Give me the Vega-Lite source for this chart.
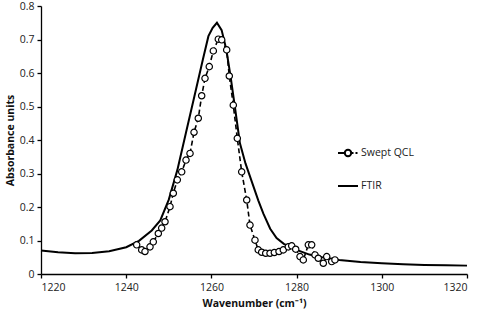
{
  "$schema": "https://vega.github.io/schema/vega-lite/v6.json",
  "width": 426,
  "height": 268,
  "autosize": {"type": "none"},
  "padding": {"left": 41, "top": 6, "right": 17, "bottom": 44},
  "background": "white",
  "config": {
    "view": {"stroke": null},
    "font": "Open Sans",
    "axis": {
      "grid": false,
      "domainColor": "black",
      "domainWidth": 1.3,
      "tickColor": "black",
      "tickWidth": 1.3,
      "tickSize": 4,
      "labelColor": "#222",
      "labelFont": "Open Sans",
      "labelFontSize": 10.5,
      "titleFont": "Open Sans",
      "titleFontSize": 10.5,
      "titleFontWeight": "bold",
      "titleColor": "#111"
    }
  },
  "datasets": {
    "ftir": [
      {"w": 1220, "a": 0.070},
      {"w": 1224, "a": 0.065},
      {"w": 1228, "a": 0.062},
      {"w": 1232, "a": 0.063},
      {"w": 1236, "a": 0.068},
      {"w": 1240, "a": 0.080},
      {"w": 1243, "a": 0.099},
      {"w": 1246, "a": 0.130},
      {"w": 1248, "a": 0.160},
      {"w": 1250, "a": 0.222},
      {"w": 1252, "a": 0.310},
      {"w": 1254, "a": 0.420},
      {"w": 1256, "a": 0.530},
      {"w": 1258, "a": 0.640},
      {"w": 1259.3, "a": 0.710},
      {"w": 1260.3, "a": 0.735},
      {"w": 1261.3, "a": 0.750},
      {"w": 1262.4, "a": 0.728},
      {"w": 1263.5, "a": 0.670},
      {"w": 1264.5, "a": 0.590},
      {"w": 1265.5, "a": 0.500},
      {"w": 1266.7, "a": 0.390},
      {"w": 1268, "a": 0.330},
      {"w": 1269.5, "a": 0.275},
      {"w": 1271, "a": 0.220},
      {"w": 1272.2, "a": 0.180},
      {"w": 1273.8, "a": 0.135},
      {"w": 1275.3, "a": 0.107},
      {"w": 1277, "a": 0.090},
      {"w": 1280, "a": 0.072},
      {"w": 1283, "a": 0.058},
      {"w": 1286, "a": 0.050},
      {"w": 1290, "a": 0.042},
      {"w": 1295, "a": 0.036},
      {"w": 1300, "a": 0.032},
      {"w": 1305, "a": 0.029},
      {"w": 1310, "a": 0.027},
      {"w": 1315, "a": 0.026},
      {"w": 1320, "a": 0.025}
    ],
    "qcl": [
      {"w": 1242.46, "a": 0.087},
      {"w": 1243.64, "a": 0.072},
      {"w": 1244.41, "a": 0.067},
      {"w": 1245.59, "a": 0.081},
      {"w": 1246.36, "a": 0.096},
      {"w": 1247.54, "a": 0.121},
      {"w": 1248.33, "a": 0.137},
      {"w": 1249.11, "a": 0.156},
      {"w": 1250.28, "a": 0.201},
      {"w": 1251.06, "a": 0.241},
      {"w": 1252.0, "a": 0.281},
      {"w": 1253.03, "a": 0.305},
      {"w": 1254.04, "a": 0.340},
      {"w": 1254.98, "a": 0.360},
      {"w": 1255.92, "a": 0.423},
      {"w": 1256.92, "a": 0.465},
      {"w": 1257.72, "a": 0.532},
      {"w": 1258.5, "a": 0.584},
      {"w": 1259.5, "a": 0.619},
      {"w": 1260.45, "a": 0.666},
      {"w": 1261.62, "a": 0.701},
      {"w": 1262.42, "a": 0.699},
      {"w": 1263.59, "a": 0.669},
      {"w": 1264.2, "a": 0.591},
      {"w": 1265.14, "a": 0.504},
      {"w": 1266.08, "a": 0.405},
      {"w": 1267.11, "a": 0.305},
      {"w": 1268.29, "a": 0.221},
      {"w": 1269.06, "a": 0.146},
      {"w": 1270.23, "a": 0.101},
      {"w": 1271.0, "a": 0.072},
      {"w": 1271.8, "a": 0.065},
      {"w": 1272.75, "a": 0.062},
      {"w": 1273.76, "a": 0.062},
      {"w": 1274.77, "a": 0.064},
      {"w": 1275.87, "a": 0.067},
      {"w": 1276.88, "a": 0.072},
      {"w": 1278.05, "a": 0.081},
      {"w": 1278.85, "a": 0.084},
      {"w": 1279.79, "a": 0.074},
      {"w": 1280.8, "a": 0.052},
      {"w": 1281.57, "a": 0.042},
      {"w": 1282.75, "a": 0.087},
      {"w": 1283.54, "a": 0.087},
      {"w": 1284.32, "a": 0.057},
      {"w": 1285.09, "a": 0.047},
      {"w": 1286.27, "a": 0.032},
      {"w": 1287.07, "a": 0.052},
      {"w": 1288.24, "a": 0.037},
      {"w": 1289.0, "a": 0.042}
    ],
    "legend": [
      {"series": "Swept QCL"},
      {"series": "FTIR"}
    ]
  },
  "encoding": {
    "x": {
      "field": "w",
      "type": "quantitative",
      "scale": {"domain": [1220, 1320], "nice": false, "zero": false},
      "axis": {"values": [1220, 1240, 1260, 1280, 1300, 1320], "format": "d", "title": "Wavenumber (cm⁻¹)", "titlePadding": 6, "labelPadding": 4}
    },
    "y": {
      "field": "a",
      "type": "quantitative",
      "scale": {"domain": [0, 0.8], "nice": false},
      "axis": {"values": [0, 0.1, 0.2, 0.3, 0.4, 0.5, 0.6, 0.7, 0.8], "format": ".1~f", "title": "Absorbance units", "titlePadding": 4, "labelPadding": 3}
    }
  },
  "layer": [
    {
      "data": {"name": "ftir"},
      "mark": {"type": "line", "color": "black", "strokeWidth": 2}
    },
    {
      "data": {"name": "qcl"},
      "mark": {"type": "line", "color": "black", "strokeWidth": 1.6, "strokeDash": [5, 3]}
    },
    {
      "data": {"name": "qcl"},
      "mark": {"type": "point", "shape": "circle", "filled": true, "fill": "white", "stroke": "black", "strokeWidth": 1.2, "size": 40, "opacity": 1}
    },
    {
      "data": {"name": "legend"},
      "transform": [{"filter": "false"}],
      "mark": {"type": "point", "filled": false, "stroke": "black"},
      "encoding": {
        "x": {"datum": 1300},
        "y": {"datum": 0.4},
        "shape": {
          "field": "series",
          "type": "nominal",
          "scale": {
            "domain": ["Swept QCL", "FTIR"],
            "range": [
              "M-1,0H-0.35M0.35,0H0.55M0.75,0H0.95M-0.32,0A0.32,0.32 0 1,1 0.32,0A0.32,0.32 0 1,1 -0.32,0",
              "M-1,0H1"
            ]
          },
          "legend": {
            "title": null,
            "orient": "none",
            "legendX": 296,
            "legendY": 136,
            "symbolSize": 400,
            "symbolStrokeColor": "black",
            "symbolFillColor": "transparent",
            "symbolStrokeWidth": 2,
            "symbolOpacity": 1,
            "labelFont": "Open Sans",
            "labelFontSize": 10.5,
            "labelColor": "#222",
            "labelOffset": 2,
            "rowPadding": 14
          }
        }
      }
    }
  ]
}
